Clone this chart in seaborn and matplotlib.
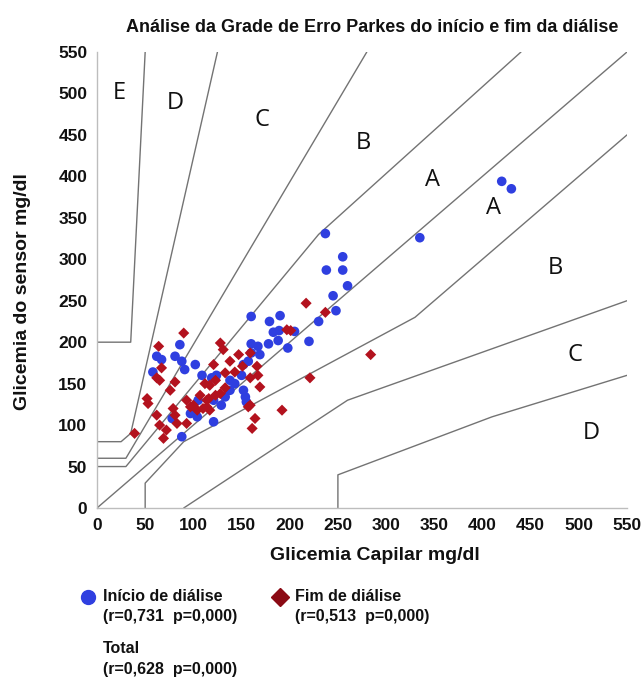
import numpy as np
import pandas as pd
import matplotlib
matplotlib.use("Agg")
import matplotlib.pyplot as plt
import seaborn as sns
from matplotlib.lines import Line2D

sns.set_theme(style="white")
plt.rcParams["font.family"] = ["Liberation Sans", "DejaVu Sans"]

# Parkes grid zone boundaries (type 2)
identity_x = [0, 550]
identity_y = [0, 550]
upper_a_x = [0, 30, 230, 440]
upper_a_y = [50, 50, 330, 550]
lower_a_x = [50, 50, 90, 330, 550]
lower_a_y = [0, 30, 80, 230, 450]
upper_b_x = [0, 30, 280]
upper_b_y = [60, 60, 550]
lower_b_x = [90, 260, 550]
lower_b_y = [0, 130, 250]
upper_c_x = [0, 25, 35, 125]
upper_c_y = [80, 80, 90, 550]
lower_c_x = [250, 250, 410, 550]
lower_c_y = [0, 40, 110, 160]
upper_d_x = [0, 35, 50]
upper_d_y = [200, 200, 550]

zone_labels = ["E", "D", "C", "B", "A", "A", "B", "C", "D"]
zone_x = [23, 81, 171, 276, 348, 411, 476, 496, 513]
zone_y = [500, 488, 468, 440, 396, 362, 290, 185, 90]

# Início de diálise (capilar, sensor)
inicio_cap = [160, 190, 179, 183, 189, 188, 178, 198, 160, 167, 160, 169, 86, 62, 67, 58,
              81, 88, 91, 102, 109, 119, 152, 157, 150, 138, 152, 154, 155, 129, 105, 97,
              104, 78, 121, 88, 237, 238, 255, 255, 260, 245, 248, 230, 205, 220,
              335, 420, 430, 138, 143, 133, 121, 124]
inicio_sen = [231, 232, 225, 212, 214, 202, 198, 193, 198, 195, 187, 185, 197, 183, 179, 164,
              183, 177, 167, 173, 160, 157, 173, 177, 160, 142, 142, 134, 128, 124, 130, 114,
              110, 108, 104, 86, 331, 287, 303, 287, 268, 256, 238, 225, 213, 201,
              326, 394, 385, 154, 150, 134, 130, 160]

# Fim de diálise (capilar, sensor)
fim_cap = [90, 64, 67, 62, 81, 76, 52, 53, 62, 79, 81, 65, 72, 69, 83, 93, 39, 93, 97, 114,
           112, 121, 128, 131, 147, 159, 123, 128, 133, 143, 159, 166, 167, 169, 157, 164,
           161, 192, 197, 201, 217, 237, 221, 284, 138, 117, 151, 116, 114, 110, 117, 159,
           100, 104, 107, 123, 133, 65]
fim_sen = [211, 195, 169, 157, 152, 142, 132, 126, 112, 120, 112, 100, 94, 84, 102, 102, 90,
           130, 122, 130, 150, 173, 199, 191, 185, 187, 154, 138, 163, 164, 157, 171, 160, 146,
           122, 108, 96, 118, 215, 214, 247, 236, 157, 185, 177, 148, 171, 132, 122, 120, 118,
           124, 124, 118, 136, 136, 145, 154]

blue = "#2f3fe0"
red = "#b3121e"
line_col = "#737373"

fig = plt.figure(figsize=(6.44, 6.84), dpi=100)
ax = fig.add_axes([0.1506, 0.2573, 0.823, 0.6667])

for xs, ys in [(identity_x, identity_y), (upper_a_x, upper_a_y), (lower_a_x, lower_a_y),
               (upper_b_x, upper_b_y), (lower_b_x, lower_b_y), (upper_c_x, upper_c_y),
               (lower_c_x, lower_c_y), (upper_d_x, upper_d_y)]:
    sns.lineplot(x=xs, y=ys, sort=False, estimator=None, color=line_col, linewidth=1, ax=ax)

df_ini = pd.DataFrame({"cap": inicio_cap, "sen": inicio_sen})
df_fim = pd.DataFrame({"cap": fim_cap, "sen": fim_sen})
sns.scatterplot(data=df_ini, x="cap", y="sen", color=blue, marker="o", s=48,
                edgecolor="none", ax=ax, zorder=3)
sns.scatterplot(data=df_fim, x="cap", y="sen", color=red, marker="D", s=32,
                edgecolor="none", ax=ax, zorder=4)

for lab, zx, zy in zip(zone_labels, zone_x, zone_y):
    ax.text(zx, zy, lab, fontsize=17, family="Open Sans", ha="center", va="center", color="#111111")

ax.set_xlim(0, 550)
ax.set_ylim(0, 550)
ticks = list(range(0, 551, 50))
ax.set_xticks(ticks)
ax.set_yticks(ticks)
ax.tick_params(length=0, labelsize=12.5, pad=7, labelcolor="#111111")
for t in ax.get_xticklabels() + ax.get_yticklabels():
    t.set_fontweight("bold")
for s in ["top", "right"]:
    ax.spines[s].set_visible(False)
for s in ["left", "bottom"]:
    ax.spines[s].set_color("#bdbdbd")
    ax.spines[s].set_linewidth(1)

ax.set_xlabel("Glicemia Capilar mg/dl", fontsize=14, fontweight="bold", color="#111111")
ax.set_ylabel("Glicemia do sensor mg/dl", fontsize=14, fontweight="bold", color="#111111")
ax.xaxis.set_label_coords(0.5245, -0.085)
ax.yaxis.set_label_coords(-0.124, 0.474)

fig.text(0.578, 0.9605, "Análise da Grade de Erro Parkes do início e fim da diálise",
         fontsize=13, fontweight="bold", ha="center", va="center", color="#111111")

# legend
fig.add_artist(Line2D([0.1366], [0.1272], marker="o", markersize=10, color=blue,
                      linestyle="none", transform=fig.transFigure))
fig.add_artist(Line2D([0.4348], [0.1272], marker="D", markersize=9, color="#8b0a14",
                      linestyle="none", transform=fig.transFigure))
leg_font = dict(fontsize=11.5, fontweight="bold", va="center", ha="left", color="#111111")
fig.text(0.16, 0.1272, "Início de diálise", **leg_font)
fig.text(0.16, 0.098, "(r=0,731  p=0,000)", **leg_font)
fig.text(0.458, 0.1272, "Fim de diálise", **leg_font)
fig.text(0.458, 0.098, "(r=0,513  p=0,000)", **leg_font)
fig.text(0.16, 0.0526, "Total", **leg_font)
fig.text(0.16, 0.0205, "(r=0,628  p=0,000)", **leg_font)

fig.savefig("out.png", dpi=100)
